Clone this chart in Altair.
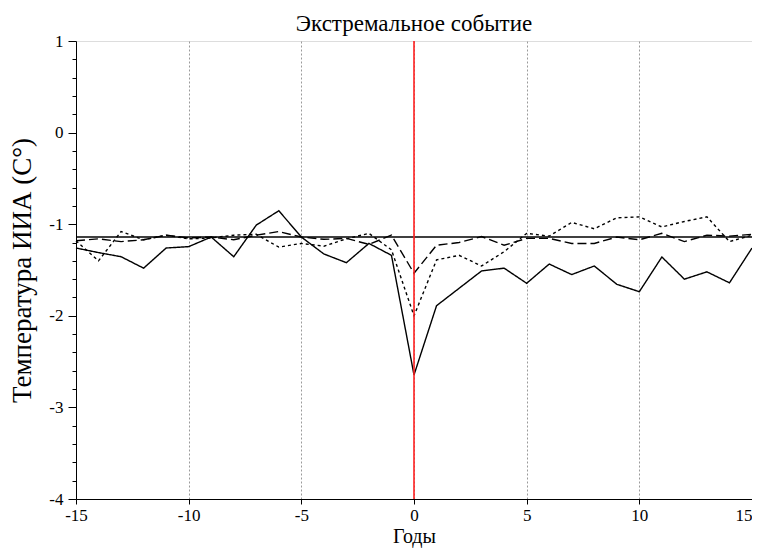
import altair as alt
import pandas as pd

years = list(range(-15, 16))

solid = [-1.26, -1.31, -1.355, -1.48, -1.26, -1.245, -1.14, -1.355, -1.01, -0.853,
         -1.14, -1.325, -1.42, -1.21, -1.34, -2.646, -1.89, -1.70, -1.51, -1.48,
         -1.645, -1.435, -1.55, -1.456, -1.656, -1.737, -1.358, -1.60, -1.52, -1.64, -1.26]

dashed = [-1.18, -1.16, -1.19, -1.17, -1.12, -1.15, -1.14, -1.17, -1.12, -1.08,
          -1.14, -1.165, -1.155, -1.22, -1.12, -1.536, -1.23, -1.20, -1.135, -1.23,
          -1.155, -1.155, -1.21, -1.21, -1.14, -1.17, -1.10, -1.19, -1.12, -1.13, -1.11]

dotted = [-1.18, -1.40, -1.08, -1.17, -1.12, -1.16, -1.15, -1.12, -1.11, -1.25,
          -1.21, -1.24, -1.16, -1.10, -1.28, -2.00, -1.39, -1.34, -1.456, -1.30,
          -1.10, -1.13, -0.98, -1.05, -0.93, -0.92, -1.03, -0.97, -0.92, -1.19, -1.12]

baseline_value = -1.14
event_year = [0]

x_tick_values = [-15, -10, -5, 0, 5, 10, 15]
y_major_ticks = [-4, -3, -2, -1, 0, 1]
y_minor_ticks = [-3.8, -3.6, -3.4, -3.2, -2.8, -2.6, -2.4, -2.2, -1.8, -1.6, -1.4, -1.2,
                 -0.8, -0.6, -0.4, -0.2, 0.2, 0.4, 0.6, 0.8]

series_names = ["solid", "dashed", "dotted"]

rows = []
for name, vals in zip(series_names, [solid, dashed, dotted]):
    for yr, v in zip(years, vals):
        rows.append({"year": yr, "value": v, "series": name})
df = pd.DataFrame(rows)

base_df = pd.DataFrame({"year": [years[0], years[-1]], "value": [baseline_value, baseline_value]})
event_df = pd.DataFrame({"year": event_year})

FONT = "Liberation Serif"

x_scale = alt.Scale(domain=[-15, 15], nice=False, zero=False)
y_scale = alt.Scale(domain=[-4, 1], nice=False, zero=False)

x_axis = alt.Axis(
    values=x_tick_values,
    title="Годы",
    grid=True,
    gridDash=[2, 2],
    gridColor="#9a9a9a",
    gridWidth=1,
    gridOpacity={"condition": {"test": "abs(datum.value) > 14", "value": 0}, "value": 1},
    tickSize=5,
    tickColor="black",
    domainColor="black",
    labelExpr="'' + datum.value",
    labelAlign={"condition": {"test": "datum.value > 14", "value": "right"}, "value": "center"},
    labelFont=FONT,
    labelFontSize=17,
    labelColor="black",
    labelPadding=3,
    labelOverlap=False,
    titleFont=FONT,
    titleFontSize=20,
    titleFontWeight="normal",
    titleColor="black",
    titlePadding=3,
)

y_axis_major = alt.Axis(
    values=y_major_ticks,
    orient="left",
    title="Температура ИИА (С°)",
    grid=False,
    tickSize=8,
    tickColor="black",
    domainColor="black",
    labelExpr="'' + datum.value",
    labelFont=FONT,
    labelFontSize=17,
    labelColor="black",
    labelPadding=5,
    labelOverlap=False,
    titleFont=FONT,
    titleFontSize=27,
    titleFontWeight="normal",
    titleColor="black",
    titlePadding=12,
)

y_axis_minor = alt.Axis(
    values=y_minor_ticks,
    orient="left",
    title="",
    grid=False,
    domain=False,
    labels=False,
    tickSize=4,
    tickColor="black",
)

lines = alt.Chart(df).mark_line(color="black", strokeWidth=1.4).encode(
    x=alt.X("year:Q", scale=x_scale, axis=x_axis),
    y=alt.Y("value:Q", scale=y_scale, axis=y_axis_major),
    strokeDash=alt.StrokeDash(
        "series:N",
        scale=alt.Scale(domain=series_names, range=[[1, 0], [9, 4], [3, 3]]),
        legend=None,
    ),
    detail="series:N",
)

base_line = alt.Chart(base_df).mark_line(color="black", strokeWidth=1.5).encode(
    x=alt.X("year:Q", scale=x_scale),
    y=alt.Y("value:Q", scale=y_scale, axis=y_axis_minor),
)

event_rule = alt.Chart(event_df).mark_rule(color="#ff2020", strokeWidth=1.6).encode(
    x=alt.X("year:Q", scale=x_scale),
)

chart = alt.layer(lines, base_line, event_rule).resolve_axis(y="independent").properties(
    width=676,
    height=458,
    title=alt.TitleParams(
        "Экстремальное событие",
        font=FONT,
        fontSize=23,
        fontWeight="normal",
        color="black",
        anchor="middle",
        frame="group",
        offset=4,
        dy=8,
    ),
    autosize=alt.AutoSizeParams(type="none"),
    padding={"left": 68, "top": 33, "right": 0, "bottom": 50},
).configure_view(stroke=None).configure(background="white")

chart.save("out.html", embed_options={"renderer": "svg", "actions": False})
